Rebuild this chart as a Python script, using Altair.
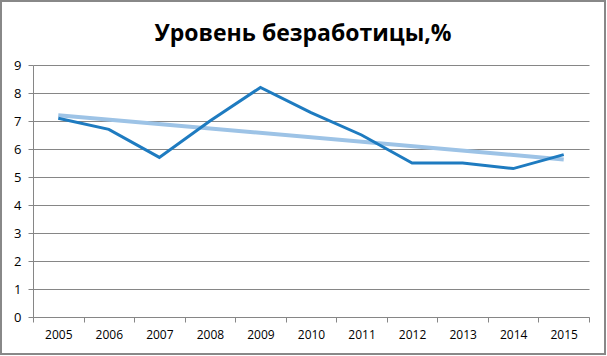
import altair as alt
import pandas as pd

years = [2005, 2006, 2007, 2008, 2009, 2010, 2011, 2012, 2013, 2014, 2015]
rates = [7.1, 6.7, 5.7, 7.0, 8.2, 7.3, 6.5, 5.5, 5.5, 5.3, 5.8]
title_text = "Уровень безработицы,%"

df = pd.DataFrame({"year": years, "rate": rates})

W, H = 556, 252
FONT = "Open Sans"

xenc = alt.X(
    "year:O",
    bandPosition=0.5,
    scale=alt.Scale(type="band", paddingInner=0, paddingOuter=0),
    axis=alt.Axis(
        title=None, labelAngle=0, tickBand="extent", grid=False,
        domainColor="#868686", tickColor="#868686", tickSize=5,
        labelFont=FONT, labelFontSize=12, labelColor="#000000", labelPadding=7,
    ),
)
yenc = alt.Y(
    "rate:Q",
    scale=alt.Scale(domain=[0, 9], nice=False),
    axis=alt.Axis(
        title=None, values=list(range(10)), grid=True, gridColor="#868686",
        domainColor="#868686", tickColor="#868686", tickSize=5,
        labelFont=FONT, labelFontSize=13, labelColor="#000000", labelPadding=7,
    ),
)

base = alt.Chart(df)

trend = base.transform_regression("year", "rate").mark_line(
    color="#9DC3E6", strokeWidth=4
).encode(x=xenc, y=yenc)

line = base.mark_line(color="#1E7BC0", strokeWidth=3).encode(x=xenc, y=yenc)

frame = alt.Chart(pd.DataFrame({"a": [0]})).mark_rect(
    fill=None, stroke="#888888", strokeWidth=2, clip=False
).encode(
    x=alt.value(-32), x2=alt.value(W + 16),
    y=alt.value(-64), y2=alt.value(H + 37),
)

chart = alt.layer(trend, line, frame).properties(
    width=W, height=H,
    title=alt.TitleParams(
        title_text, font=FONT, fontSize=23, fontWeight="bold", color="#000000",
        anchor="middle", offset=-46, frame="bounds",
    ),
    autosize=alt.AutoSizeParams(type="none"),
    padding={"left": 33, "top": 65, "right": 18, "bottom": 39},
).configure_view(stroke=None)

chart.save("out.html", embed_options={"renderer": "svg", "actions": False})
